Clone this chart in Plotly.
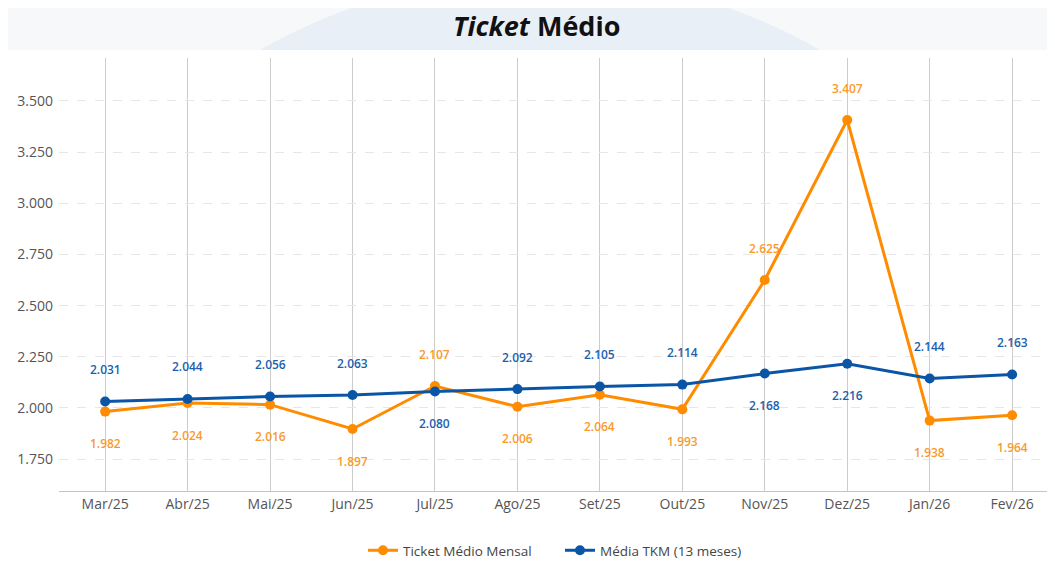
import plotly.graph_objects as go

meses = ["Mar/25", "Abr/25", "Mai/25", "Jun/25", "Jul/25", "Ago/25",
         "Set/25", "Out/25", "Nov/25", "Dez/25", "Jan/26", "Fev/26"]
ticket_mensal = [1982, 2024, 2016, 1897, 2107, 2006, 2064, 1993, 2625, 3407, 1938, 1964]
media_tkm = [2031, 2044, 2056, 2063, 2080, 2092, 2105, 2114, 2168, 2216, 2144, 2163]
# label side: 1 = above point, -1 = below
lado_mensal = [-1, -1, -1, -1, 1, -1, -1, -1, 1, 1, -1, -1]
lado_media = [1, 1, 1, 1, -1, 1, 1, 1, -1, -1, 1, 1]

LARANJA = "#ff8c00"
AZUL = "#0a55a5"
FONTE = "Open Sans"


def fmt(v):
    return f"{v:,}".replace(",", ".")


fig = go.Figure()
fig.add_trace(go.Scatter(
    x=meses, y=ticket_mensal, mode="lines+markers", name="Ticket Médio Mensal",
    line=dict(color=LARANJA, width=3), marker=dict(size=10, color=LARANJA),
))
fig.add_trace(go.Scatter(
    x=meses, y=media_tkm, mode="lines+markers", name="Média TKM (13 meses)",
    line=dict(color=AZUL, width=3), marker=dict(size=10, color=AZUL),
))

for m, v, s in zip(meses, ticket_mensal, lado_mensal):
    fig.add_annotation(x=m, y=v, text=fmt(v), showarrow=False, yshift=32 * s,
                       font=dict(family=FONTE, size=12, weight=600, color="#f99a2c"))
for m, v, s in zip(meses, media_tkm, lado_media):
    fig.add_annotation(x=m, y=v, text=fmt(v), showarrow=False, yshift=32 * s,
                       font=dict(family=FONTE, size=12, weight=600, color="#1c5fae"))

# background: light page, soft blue circle behind the title, white panel
fig.add_shape(type="circle", xref="paper", yref="paper", layer="below",
              x0=-0.085, x1=1.051, y0=-1.42, y1=1.19,
              fillcolor="#e9eff6", line=dict(width=0))
fig.add_shape(type="rect", xref="paper", yref="paper", layer="below",
              x0=-0.07, x1=1.06, y0=-0.2, y1=1.0185,
              fillcolor="white", line=dict(width=0))

fig.update_layout(
    width=1047, height=558,
    margin=dict(l=51, r=0, t=50, b=75),
    paper_bgcolor="#f7f8fa",
    plot_bgcolor="rgba(0,0,0,0)",
    separators=",.",
    font=dict(family=FONTE, size=14, color="#555"),
    title=dict(text="<b><i>Ticket</i> Médio</b>", x=0.505, xanchor="center",
               y=0.966, yanchor="middle",
               font=dict(family=FONTE, size=27, color="#111")),
    xaxis=dict(
        range=[-0.56, 11.52], showgrid=True, gridcolor="#cccccc", gridwidth=1,
        showline=True, linecolor="#c4c4c4", linewidth=1, ticks="",
        tickfont=dict(size=14, color="#555"), zeroline=False,
    ),
    yaxis=dict(
        range=[1594, 3710], tickvals=[1750, 2000, 2250, 2500, 2750, 3000, 3250, 3500],
        tickformat=",", showgrid=True, gridcolor="#e6e6e6", griddash="dash",
        zeroline=False, showline=False, ticks="", ticklabelstandoff=5,
        tickfont=dict(size=14, color="#555"),
    ),
    showlegend=True,
    legend=dict(orientation="h", x=0.503, xanchor="center", y=-0.1386, yanchor="middle",
                font=dict(size=13.5, color="#444"), bgcolor="rgba(0,0,0,0)",
                itemwidth=30, entrywidth=152),
    hovermode="x unified",
)

fig.write_html("out.html")
